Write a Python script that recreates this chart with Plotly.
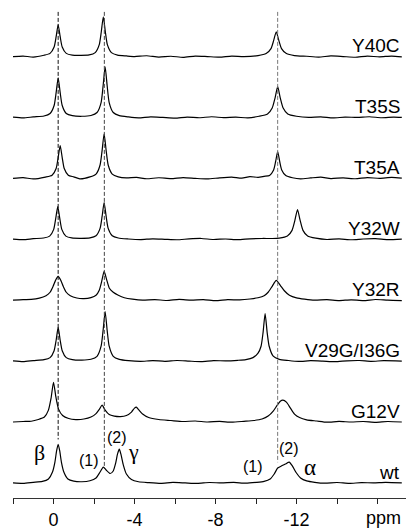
import plotly.graph_objects as go

# ---------------- data (ppm, intensity above baseline) ----------------
labels = ["Y40C", "T35S", "T35A", "Y32W", "Y32R", "V29G/I36G", "G12V", "wt"]

Y40C = [(2.0,0),(1.5,0.5),(1.0,-0.5),(0.47,1.3),(0.17,3.2),(-0.03,9.6),(-0.13,20),(-0.23,32),(-0.33,20),(-0.43,9.6),
        (-0.63,3.2),(-0.93,1.4),(-1.36,1.2),(-1.76,1.6),(-2.06,4),(-2.26,12),(-2.36,25),(-2.46,40),(-2.56,25),(-2.66,12),
        (-2.86,4),(-3.16,1.5),(-3.6,0.6),(-4.0,0),(-4.6,0.8),(-5.2,-0.5),(-5.8,0.3),(-6.4,-0.8),(-7.0,0.5),(-7.6,0),
        (-8.2,-0.6),(-8.8,0.5),(-9.4,0),(-10.1,1),(-10.5,3),(-10.74,8),(-10.87,16),(-11.0,25),(-11.13,16),(-11.26,8),
        (-11.5,3),(-11.9,1),(-12.5,0.3),(-13.1,-0.5),(-13.7,0.6),(-14.3,0),(-14.9,-0.7),(-15.5,0.4),(-16.1,-0.3),(-16.7,0.5),(-17.2,-0.3)]

T35S = [(2.0,0.3),(1.5,-0.5),(1.0,0.6),(0.47,1.5),(0.17,4),(-0.03,12),(-0.13,25),(-0.23,40),(-0.33,25),(-0.43,12),
        (-0.63,4),(-0.93,1.8),(-1.4,1.2),(-1.85,2),(-2.15,5),(-2.35,15),(-2.45,32),(-2.55,51),(-2.65,32),(-2.75,15),
        (-2.95,5),(-3.25,1.8),(-3.7,0.5),(-4.2,-0.4),(-4.8,0.6),(-5.4,0),(-6.0,-0.7),(-6.6,0.4),(-7.2,-0.3),(-7.8,0.7),
        (-8.4,-0.2),(-9.0,0.3),(-9.6,-0.5),(-10.15,1.2),(-10.57,3.5),(-10.8,9.5),(-10.94,19.5),(-11.07,31),(-11.2,19.5),(-11.34,9.5),
        (-11.57,3.5),(-12.0,1.2),(-12.6,0),(-13.2,0.6),(-13.8,-0.5),(-14.4,0.4),(-15.0,0),(-15.6,0.7),(-16.2,-0.3),(-16.8,0.4),(-17.2,0)]

T35A = [(2.0,0),(1.5,0.8),(1.0,-0.6),(0.4,1.3),(0.07,3.2),(-0.13,10),(-0.23,21),(-0.33,33),(-0.43,21),(-0.53,10),
        (-0.73,3.2),(-1.0,1.5),(-1.3,-0.5),(-1.8,1.5),(-2.1,4.3),(-2.3,13.5),(-2.4,28),(-2.5,45),(-2.6,28),(-2.7,13.5),
        (-2.9,4.3),(-3.2,1.5),(-3.6,0.5),(-4.1,1),(-4.6,-0.4),(-5.2,0.6),(-5.8,-0.3),(-6.4,0.8),(-7.0,0),(-7.6,-0.6),
        (-8.2,0.5),(-8.8,1.2),(-9.3,0.2),(-9.7,1.8),(-10.1,1),(-10.4,2),(-10.67,3),(-10.87,8.5),(-10.97,17),(-11.07,27),
        (-11.17,17),(-11.27,8.5),(-11.47,2.8),(-11.8,0.6),(-12.2,-0.5),(-12.7,0.4),(-13.2,1.2),(-13.7,-0.2),(-14.3,0.5),(-14.9,-0.4),
        (-15.5,0.7),(-16.1,0),(-16.7,0.9),(-17.2,0.2)]

Y32W = [(2.0,0.2),(1.5,-0.4),(1.0,0.6),(0.49,1.3),(0.19,3.2),(-0.01,10),(-0.11,21),(-0.21,33),(-0.31,21),(-0.41,10),
        (-0.61,3.2),(-0.9,1.4),(-1.3,1.0),(-1.8,1.4),(-2.1,3.6),(-2.3,11),(-2.4,23),(-2.5,37),(-2.6,23),(-2.7,11),
        (-2.9,3.6),(-3.2,1.3),(-3.7,0.3),(-4.3,-0.3),(-4.9,0.5),(-5.5,0),(-6.1,-0.5),(-6.7,0.4),(-7.3,0.8),(-7.9,-0.2),
        (-8.5,0.3),(-9.1,-0.4),(-9.7,0.5),(-10.3,0.8),(-10.8,0.8),(-11.15,1.2),(-11.55,3.3),(-11.78,9),(-11.92,19),(-12.05,30),
        (-12.18,19),(-12.32,9),(-12.55,3.3),(-12.95,1.1),(-13.5,-0.2),(-14.1,0.4),(-14.7,-0.5),(-15.3,0.3),(-15.9,0.6),(-16.5,-0.3),(-17.2,0.2)]

Y32R = [(2.0,0),(1.5,0.6),(1.1,0.8),(0.7,2),(0.37,4.5),(0.17,8),(0.02,14),(-0.1,20),(-0.23,24),(-0.36,20),
        (-0.48,14),(-0.63,8),(-0.83,4.5),(-1.15,2.2),(-1.5,1.6),(-1.85,2.6),(-2.1,5),(-2.26,10),(-2.38,19),(-2.5,29),
        (-2.62,21),(-2.76,12),(-2.95,8),(-3.2,5),(-3.5,2.5),(-3.9,1),(-4.4,0),(-5.0,0.6),(-5.6,-0.3),(-6.2,0.8),
        (-6.8,0),(-7.4,0.6),(-8.0,-0.5),(-8.6,0.5),(-9.2,0.3),(-9.7,1.2),(-10.1,2.5),(-10.4,4.5),(-10.6,8),(-10.8,14),
        (-11.0,20),(-11.2,15),(-11.4,9.5),(-11.65,5),(-12.0,2.3),(-12.4,1),(-12.9,0),(-13.5,0.5),(-14.1,-0.4),(-14.7,0.4),
        (-15.3,-0.5),(-15.9,0.7),(-16.5,0),(-17.2,-0.4)]

V29G_I36G = [(2.0,0.3),(1.5,-0.5),(1.0,0.5),(0.47,1.4),(0.17,3.5),(-0.03,10.5),(-0.13,21),(-0.23,34),(-0.33,21),(-0.43,10.5),
        (-0.63,3.5),(-0.93,1.5),(-1.4,1.0),(-1.85,1.9),(-2.15,4.8),(-2.35,15),(-2.45,31),(-2.55,50),(-2.65,31),(-2.75,15),
        (-2.95,4.8),(-3.25,1.7),(-3.7,0.4),(-4.3,-0.3),(-4.9,0.5),(-5.5,-0.2),(-6.1,0.6),(-6.7,0),(-7.3,-0.5),(-7.9,0.5),
        (-8.5,0.2),(-9.1,0.8),(-9.5,1.5),(-9.85,3.5),(-10.1,8),(-10.25,15),(-10.35,29),(-10.45,48),(-10.55,29),(-10.65,15),
        (-10.85,5),(-11.15,1.8),(-11.6,0.6),(-12.1,-0.3),(-12.7,0.4),(-13.3,0),(-13.9,-0.6),(-14.5,0.3),(-15.1,0.6),(-15.7,-0.2),
        (-16.3,0.4),(-17.2,0)]

G12V = [(2.0,0),(1.5,0.5),(1.1,0.8),(0.75,2.5),(0.45,5),(0.25,12),(0.12,24),(0.0,40),(-0.12,25),(-0.25,13),
        (-0.45,6.5),(-0.75,3.5),(-1.1,2.5),(-1.5,3),(-1.85,5),(-2.1,8.5),(-2.27,13),(-2.4,17),(-2.55,12),(-2.75,7.5),
        (-3.0,6),(-3.3,5.5),(-3.6,6.5),(-3.85,10),(-4.0,14),(-4.09,15),(-4.2,12.5),(-4.4,8),(-4.7,4.5),(-5.2,2.5),
        (-5.8,1.5),(-6.4,0.5),(-7.0,1),(-7.6,0),(-8.2,0.6),(-8.8,-0.2),(-9.4,0.7),(-9.9,1.5),(-10.3,3),(-10.6,6),
        (-10.85,11),(-11.05,17),(-11.2,21),(-11.33,22),(-11.5,20),(-11.7,14),(-11.9,8),(-12.15,4.5),(-12.5,2.2),(-13.0,1),
        (-13.5,-0.2),(-14.1,0.6),(-14.7,0),(-15.3,0.5),(-15.9,-0.4),(-16.5,0.5),(-17.2,0)]

wt = [(2.0,0),(1.5,-0.4),(1.0,0.6),(0.55,1.5),(0.25,4),(0.05,11),(-0.07,21),(-0.15,32),(-0.23,39),(-0.31,32),
      (-0.39,21),(-0.51,11),(-0.71,4),(-1.0,1.8),(-1.4,1.2),(-1.8,2.2),(-2.1,5),(-2.3,11),(-2.46,16),(-2.6,13),
      (-2.8,9.5),(-2.95,12),(-3.07,20),(-3.16,29),(-3.25,34),(-3.34,28),(-3.45,18),(-3.6,9),(-3.85,3.5),(-4.2,1.2),
      (-4.7,0.3),(-5.3,-0.4),(-5.9,0.5),(-6.5,0),(-7.1,-0.5),(-7.7,0.4),(-8.3,0),(-8.9,0.5),(-9.5,-0.3),(-10.0,0.5),
      (-10.4,1.5),(-10.7,4),(-10.9,9),(-11.07,15),(-11.25,17),(-11.45,19),(-11.64,21),(-11.8,17),(-11.98,10.5),(-12.2,5),
      (-12.5,2),(-12.9,0.6),(-13.4,-0.3),(-14.0,0.4),(-14.6,-0.5),(-15.2,0.3),(-15.8,0),(-16.4,0.6),(-17.2,0)]

spectra = [Y40C, T35S, T35A, Y32W, Y32R, V29G_I36G, G12V, wt]

ref_lines_ppm = [-0.23, -2.51, -11.07]
tick_vals = [2, 0, -2, -4, -6, -8, -10, -12, -14, -16]
tick_text = ["", "0", "", "-4", "", "-8", "", "-12", "", ""]

# ---------------- layout constants ----------------
TOP = 57.0        # baseline of the first trace (px-like units from top)
STEP = 61.4       # vertical spacing between traces
PLOT_H = 502.0

fig = go.Figure()
for i, (name, spec) in enumerate(zip(labels, spectra)):
    base = TOP + STEP * i
    xs = [p[0] for p in spec]
    ys = [-base + p[1] for p in spec]
    fig.add_trace(go.Scatter(x=xs, y=ys, mode="lines", name=name,
                             line=dict(color="black", width=1.2, shape="spline", smoothing=0.6),
                             hoverinfo="skip", showlegend=False))
    fig.add_annotation(x=-17.22, y=-(base - 11), xref="x", yref="y", text=name,
                       showarrow=False, xanchor="right", yanchor="middle",
                       font=dict(family="Liberation Sans, Arial", size=19, color="black"))

# dashed reference lines
ref_colors = ["#111111", "#444444", "#777777"]
ref_bottoms = [443, 470, 466]
for xv, col, yb in zip(ref_lines_ppm, ref_colors, ref_bottoms):
    fig.add_shape(type="line", xref="x", yref="y", x0=xv, x1=xv, y0=-12, y1=-yb,
                  line=dict(color=col, width=1, dash="4px,2px"))

# wt peak annotations
sans = "Liberation Sans, Arial"
serif = "Liberation Serif, Times New Roman"
wt_notes = [("β", 0.70, 456, serif, 22), ("(1)", -1.77, 464, sans, 16), ("(2)", -3.15, 441, sans, 16),
            ("γ", -3.94, 455, serif, 22), ("(1)", -9.86, 470, sans, 16), ("(2)", -11.64, 452, sans, 16),
            ("α", -12.68, 471, serif, 23)]
for txt, xv, yv, fam, sz in wt_notes:
    fig.add_annotation(x=xv, y=-yv, xref="x", yref="y", text=txt, showarrow=False,
                       xanchor="center", yanchor="middle", font=dict(family=fam, size=sz, color="black"))

fig.add_annotation(x=-16.28, y=0, xref="x", yref="paper", yshift=-20, text="ppm", showarrow=False,
                   xanchor="center", yanchor="middle", font=dict(family=sans, size=18, color="black"))

fig.update_xaxes(range=[2.0, 2.0 - 393 / 20.25], tickmode="array", tickvals=tick_vals, ticktext=tick_text,
                 ticks="outside", ticklen=5, tickcolor="#222", tickwidth=1,
                 showline=True, linecolor="#333", linewidth=1.2, showgrid=False, zeroline=False,
                 tickfont=dict(family=sans, size=18, color="black"))
fig.update_yaxes(range=[-PLOT_H, 0], visible=False, showgrid=False, zeroline=False)

fig.update_layout(width=406, height=530, margin=dict(l=13, r=0, t=0, b=28),
                  plot_bgcolor="white", paper_bgcolor="white", showlegend=False)

fig.write_html("out.html")
